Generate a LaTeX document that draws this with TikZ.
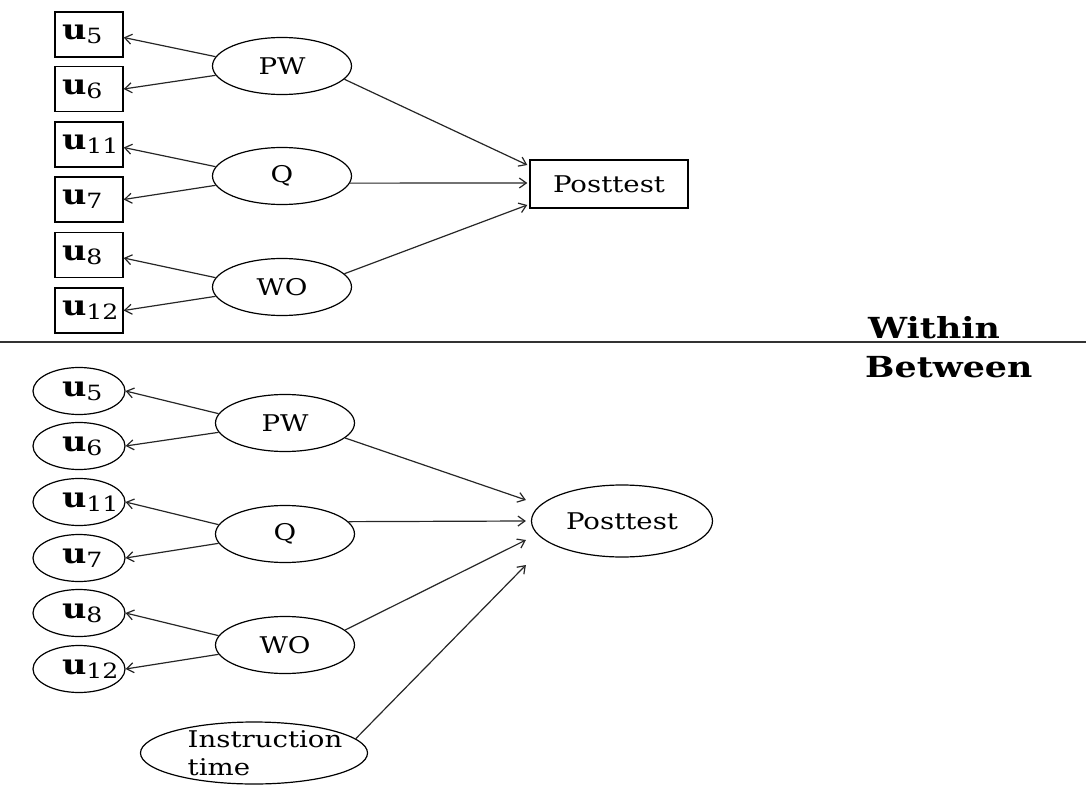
\documentclass[tikz,border=0pt]{standalone}
\usepackage{fontspec}
\setmainfont{DejaVu Serif}[FakeStretch=1.2]
\usetikzlibrary{arrows.meta,shapes.geometric,calc}

% indicator label: bold u with a lowered index
\newcommand\uvar[1]{{\fontsize{28}{28}\selectfont\bfseries u}\raisebox{-4pt}{\fontsize{21}{21}\selectfont #1}}

\tikzset{
  ind/.style={draw, line width=1.4pt, minimum width=68, minimum height=45, inner sep=0pt},
  indE/.style={draw, ellipse, line width=1.2pt, minimum width=92, minimum height=47, inner sep=0pt},
  lat/.style={draw, ellipse, line width=1.2pt, minimum width=139, minimum height=57, inner sep=0pt,
              font=\fontsize{23}{23}\selectfont},
  arr/.style={-{Straight Barb[length=7pt,width=10pt]}, line width=1.2pt, draw=black!85},
  lvl/.style={anchor=base west, inner sep=0pt, font=\fontsize{29}{29}\selectfont\bfseries},
}

\begin{document}
\begin{tikzpicture}[x=1pt,y=-1pt]
\useasboundingbox (0,0) rectangle (1086,786);

% ---------- within level ----------
\node[ind] (wu5)  at (89,34.5)  {\makebox[54pt][l]{\uvar{5}}};
\node[ind] (wu6)  at (89,89)    {\makebox[54pt][l]{\uvar{6}}};
\node[ind] (wu11) at (89,144.5) {\makebox[54pt][l]{\uvar{11}}};
\node[ind] (wu7)  at (89,199.5) {\makebox[54pt][l]{\uvar{7}}};
\node[ind] (wu8)  at (89,255)   {\makebox[54pt][l]{\uvar{8}}};
\node[ind] (wu12) at (89,310.5) {\makebox[54pt][l]{\uvar{12}}};

\node[lat] (wPW) at (282,66)  {PW};
\node[lat] (wQ)  at (282,176) {Q};
\node[lat] (wWO) at (282,287) {WO};

\node[draw, line width=1.4pt, minimum width=158, minimum height=48, inner sep=0pt,
      font=\fontsize{23}{23}\selectfont] (wPost) at (609,184) {Posttest};

\draw[arr] (wPW.172) -- ([yshift=-3pt]wu5.east);
\draw[arr] (wPW.188) -- (wu6.east);
\draw[arr] (wQ.172)  -- ([yshift=-3pt]wu11.east);
\draw[arr] (wQ.188)  -- (wu7.east);
\draw[arr] (wWO.172) -- ([yshift=-3pt]wu8.east);
\draw[arr] (wWO.188) -- (wu12.east);

\draw[arr] (wPW.-12) -- ([xshift=-2pt,yshift=19pt]wPost.west);
\draw[arr] (wQ.-6)   -- ([xshift=-2pt,yshift=1pt]wPost.west);
\draw[arr] (wWO.12)  -- ([xshift=-2pt,yshift=-21pt]wPost.west);

% ---------- level divider ----------
\draw[line width=1.8pt, draw=black!80] (0,342) -- (1086,342);
\node[lvl] (within)  at (868,338) {Within};
\node[lvl] (between) at (865,377) {Between};

% ---------- between level ----------
\node[indE] (bu5)  at (79,391) {\makebox[34pt][l]{\uvar{5}}};
\node[indE] (bu6)  at (79,446) {\makebox[34pt][l]{\uvar{6}}};
\node[indE] (bu11) at (79,502) {\makebox[34pt][l]{\uvar{11}}};
\node[indE] (bu7)  at (79,558) {\makebox[34pt][l]{\uvar{7}}};
\node[indE] (bu8)  at (79,613) {\makebox[34pt][l]{\uvar{8}}};
\node[indE] (bu12) at (79,669) {\makebox[34pt][l]{\uvar{12}}};

\node[lat] (bPW) at (285,423) {PW};
\node[lat] (bQ)  at (285,534) {Q};
\node[lat] (bWO) at (285,645) {WO};

\node[draw, ellipse, line width=1.2pt, minimum width=181, minimum height=72, inner sep=0pt,
      font=\fontsize{23}{23}\selectfont] (bPost) at (622,521) {Posttest};

% the two-line label overflows its ellipse a little, so the inner seps are negative
\node[draw, ellipse, line width=1.2pt, minimum width=227, minimum height=62,
      inner xsep=-12pt, inner ysep=-8pt,
      align=left, font=\fontsize{23}{28}\selectfont] (instr) at (254,753)
      {\hspace*{22pt}Instruction\\\hspace*{22pt}time};

\coordinate (bin1) at ([xshift=-5pt,yshift=21pt]bPost.west);
\coordinate (bin2) at ([xshift=-5pt]bPost.west);
\coordinate (bin3) at ([xshift=-5pt,yshift=-19pt]bPost.west);
\coordinate (bin4) at ([xshift=-5pt,yshift=-44pt]bPost.west);

\draw[arr] (bPW.172) -- (bu5.east);
\draw[arr] (bPW.188) -- (bu6.east);
\draw[arr] (bQ.172)  -- (bu11.east);
\draw[arr] (bQ.188)  -- (bu7.east);
\draw[arr] (bWO.172) -- (bu8.east);
\draw[arr] (bWO.188) -- (bu12.east);

\draw[arr] (bPW.-14) -- (bin1);
\draw[arr] (bQ.11)   -- (bin2);
\draw[arr] (bWO.14)  -- (bin3);
\draw[arr] (instr.8) -- (bin4);
\end{tikzpicture}
\end{document}
